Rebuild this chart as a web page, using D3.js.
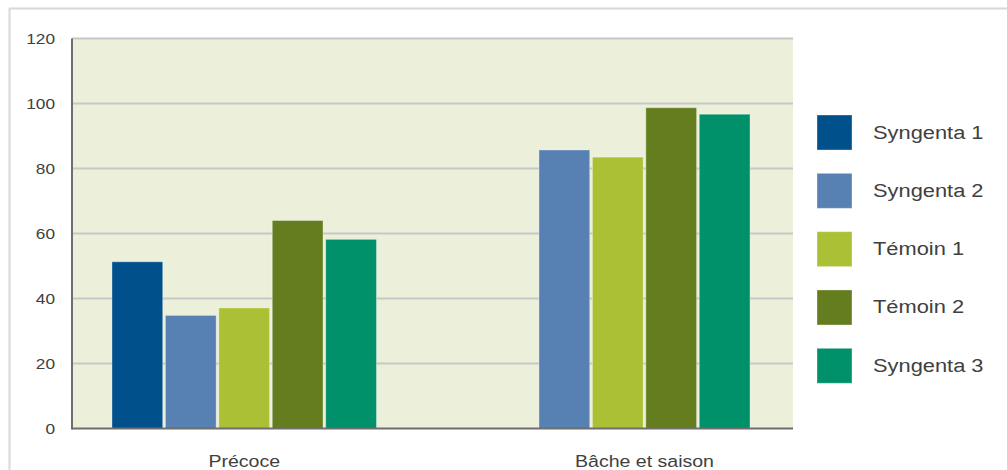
<!DOCTYPE html>
<html>
<head>
<meta charset="utf-8">
<script src="https://cdn.jsdelivr.net/npm/d3@7"></script>
<style>
  html, body { margin: 0; padding: 0; background: #fff; }
  svg { display: block; }
  text { font-family: "Liberation Sans", Arial, Helvetica, sans-serif; fill: #404040; }
</style>
</head>
<body>
<svg id="chart" width="1007" height="470"></svg>
<script>
const categories = ["Précoce", "Bâche et saison"];
const seriesNames = ["Syngenta 1", "Syngenta 2", "Témoin 1", "Témoin 2", "Syngenta 3"];
const seriesColors = ["#00508c", "#5781b3", "#abc034", "#637d1f", "#00916a"];
const precoceValues = [51.3, 34.8, 37.1, 64, 58.2];
const bacheValues = [null, 85.7, 83.5, 98.7, 96.7];
const yTicks = [0, 20, 40, 60, 80, 100, 120];

const valuesByCategory = [precoceValues, bacheValues];
const svg = d3.select("#chart");
const SX = 1.15; // horizontal text stretch of the original

// outer frame (top and left edges visible)
svg.append("line").attr("x1", 9).attr("x2", 1007).attr("y1", 8.5).attr("y2", 8.5)
  .attr("stroke", "#dcd8d3").attr("stroke-width", 2);
svg.append("line").attr("x1", 9.5).attr("x2", 9.5).attr("y1", 8).attr("y2", 470)
  .attr("stroke", "#dcd8d3").attr("stroke-width", 2);

const plot = { left: 72, right: 793, top: 38.5, bottom: 428.5 };

const y = d3.scaleLinear().domain([0, 120]).range([plot.bottom, plot.top]);
const x0 = d3.scaleBand().domain(categories).range([plot.left, plot.right - 3])
  .paddingInner(0.292).paddingOuter(0.107);
const x1 = d3.scaleBand().domain(seriesNames).range([0, x0.bandwidth()])
  .paddingInner(0.05).paddingOuter(0);
const color = d3.scaleOrdinal().domain(seriesNames).range(seriesColors);

// background
svg.append("rect").attr("x", plot.left).attr("y", plot.top)
  .attr("width", plot.right - plot.left).attr("height", plot.bottom - plot.top)
  .attr("fill", "#ecf0da");

// gridlines
svg.append("g").selectAll("line").data(yTicks.filter(t => t > 0)).join("line")
  .attr("x1", plot.left).attr("x2", plot.right)
  .attr("y1", d => y(d)).attr("y2", d => y(d))
  .attr("stroke", "#c3c8c8").attr("stroke-width", 2);

// bars
const groups = svg.append("g").selectAll("g").data(categories).join("g")
  .attr("transform", d => `translate(${x0(d)},0)`);
groups.selectAll("rect")
  .data((c, i) => seriesNames.map((s, j) => ({ s, v: valuesByCategory[i][j] })).filter(d => d.v != null))
  .join("rect")
  .attr("x", d => x1(d.s))
  .attr("width", x1.bandwidth())
  .attr("y", d => y(d.v))
  .attr("height", d => y(0) - y(d.v))
  .attr("fill", d => color(d.s))
  .attr("stroke", "rgba(255,255,255,0.35)")
  .attr("stroke-width", 1);

// axes lines
svg.append("line").attr("x1", plot.left).attr("x2", plot.left)
  .attr("y1", plot.top).attr("y2", plot.bottom + 1)
  .attr("stroke", "#6e6e6e").attr("stroke-width", 2);
svg.append("line").attr("x1", plot.left).attr("x2", plot.right)
  .attr("y1", plot.bottom).attr("y2", plot.bottom)
  .attr("stroke", "#6e6e6e").attr("stroke-width", 2);

// y tick labels
svg.append("g").selectAll("text").data(yTicks).join("text")
  .attr("transform", d => `translate(55,${y(d) + 5}) scale(${SX},1)`)
  .attr("text-anchor", "end")
  .attr("font-size", 15)
  .text(d => d);

// category labels, centred on the bars present
svg.append("g").selectAll("text").data(categories).join("text")
  .attr("transform", (c, i) => {
    const present = seriesNames.filter((s, j) => valuesByCategory[i][j] != null);
    const a = x0(c) + x1(present[0]);
    const b = x0(c) + x1(present[present.length - 1]) + x1.bandwidth();
    return `translate(${(a + b) / 2},${plot.bottom + 38}) scale(${SX},1)`;
  })
  .attr("text-anchor", "middle")
  .attr("font-size", 17)
  .text(d => d);

// legend
const legendY = d3.scalePoint().domain(seriesNames).range([132.5, 365.8]);
const lg = svg.append("g").selectAll("g").data(seriesNames).join("g")
  .attr("transform", d => `translate(817,${legendY(d)})`);
lg.append("rect").attr("x", 0).attr("y", -17.5).attr("width", 35).attr("height", 35)
  .attr("fill", d => color(d))
  .attr("stroke", "rgba(255,255,255,0.35)").attr("stroke-width", 1);
lg.append("text")
  .attr("transform", `translate(56,6) scale(${SX},1)`)
  .attr("font-size", 19)
  .text(d => d);
</script>
</body>
</html>
